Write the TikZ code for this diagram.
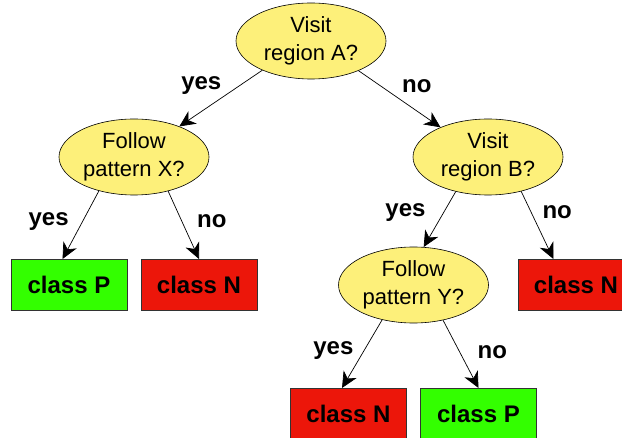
\documentclass[tikz,border=0pt]{standalone}
\usepackage{fontspec}
\setmainfont{Liberation Sans}
\usetikzlibrary{shapes.geometric,arrows.meta}
\definecolor{questfill}{RGB}{253,240,122}
\definecolor{posfill}{RGB}{51,255,0}
\definecolor{negfill}{RGB}{236,22,10}
\begin{document}
\begin{tikzpicture}[
			>={Stealth[length=16pt,width=15pt,inset=5pt]},
			level 1/.style={level distance=116pt, sibling distance=354pt, xshift=-4pt},
			level 2/.style={level distance=128pt, sibling distance=130pt, xshift=3pt},
			level 3/.style={level distance=129pt, sibling distance=130pt},
			edge from parent/.style={draw, line width=0.7pt, ->},
			question/.style={ellipse, draw, line width=0.6pt, fill=questfill, minimum width=150pt, minimum height=76pt, inner sep=0pt, align=center, font=\fontsize{22}{28}\selectfont},
			leaf/.style={rectangle, draw=black!80, line width=1pt, minimum width=116pt, minimum height=51pt, font=\bfseries\fontsize{24}{28}\selectfont},
			leafP/.style={leaf, fill=posfill},
			leafN/.style={leaf, fill=negfill},
			lbl/.style={font=\bfseries\fontsize{24}{28}\selectfont, yshift=-3pt}
		]
		\useasboundingbox (0,0) rectangle (622pt,-438pt);
		\node[question] (visitA) at (311pt,-41pt) {Visit\\region A?}
		child[parent anchor=-149, child anchor=34] {
				node[question] (followX) {Follow\\pattern X?}
				child[parent anchor=-136, child anchor=104] {node[leafP] (leafP1) {class P}
						edge from parent node[lbl, left=12pt, pos=0.4] {yes}}
				child[parent anchor=-45, child anchor=north] {node[leafN] (leafN1) {class N}
						edge from parent node[lbl, right=13pt, pos=0.4] {no}}
				edge from parent node[lbl, above left=0pt, pos=0.45] {yes}
			}
		child[parent anchor=-32, child anchor=148] {
				node[question] (visitB) {Visit\\region B?}
				child[xshift=-9.5pt, parent anchor=-133, child anchor=75] {
						node[question] (followY) {Follow\\pattern Y?}
						child[parent anchor=-132, child anchor=104] {node[leafN] (leafN3) {class N}
								edge from parent node[lbl, left=9pt, pos=0.4] {yes}}
						child[parent anchor=-50, child anchor=north] {node[leafP] (leafP2) {class P}
								edge from parent node[lbl, right=16pt, pos=0.42] {no}}
						edge from parent node[lbl, left=16pt, pos=0.33] {yes}
					}
				child[xshift=23pt, parent anchor=-46, child anchor=131] {node[leafN] (leafN2) {class N}
						edge from parent node[lbl, right=9pt, pos=0.27] {no}}
				edge from parent node[lbl, above right=3pt, pos=0.45] {no}
			};
	\end{tikzpicture}
\end{document}
